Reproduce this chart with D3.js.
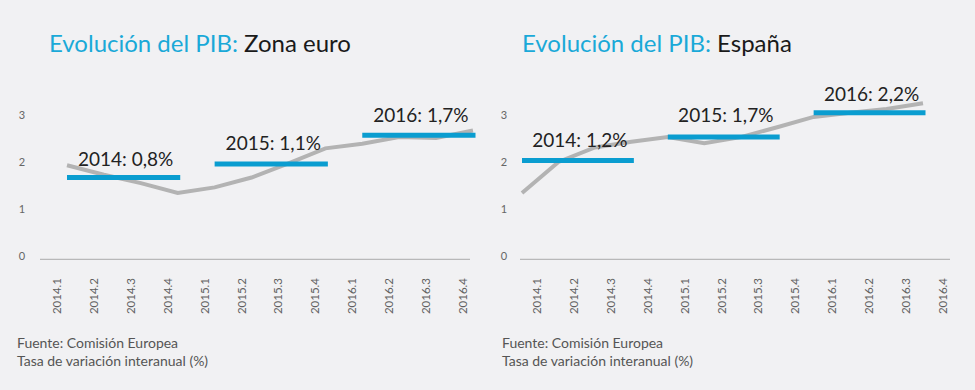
<!DOCTYPE html>
<html><head><meta charset="utf-8">
<script src="https://cdn.jsdelivr.net/npm/d3@7"></script>
<style>
html,body{margin:0;padding:0;background:#f1f1f3;}
svg{display:block;font-family:Lato,"Open Sans",sans-serif;}
</style></head>
<body><svg id="c" width="975" height="390"></svg>
<script>
const quarters = ["2014.1","2014.2","2014.3","2014.4","2015.1","2015.2","2015.3","2015.4","2016.1","2016.2","2016.3","2016.4"];
const yTicks = [0,1,2,3];
const years = ["2014","2015","2016"];
const euroValues = [2.0,1.8,1.62,1.41,1.53,1.74,2.04,2.36,2.46,2.6,2.58,2.74];
const euroBarLevels = [1.74,2.03,2.64];
const euroAnnualLabels = ["0,8%","1,1%","1,7%"];
const spainValues = [1.41,2.07,2.38,2.5,2.6,2.47,2.6,2.81,3.03,3.12,3.2,3.32];
const spainBarLevels = [2.1,2.6,3.12];
const spainAnnualLabels = ["1,2%","1,7%","2,2%"];
const titlePrefix = "Evolución del PIB: ";
const titles = ["Zona euro","España"];
const footer = ["Fuente: Comisión Europea","Tasa de variación interanual (%)"];

const svg = d3.select("#c");
const y = d3.scaleLinear().domain([0,3]).range([259.3,118.3]);

const panels = [
  {title:titles[0], values:euroValues, bars:euroBarLevels, labels:euroAnnualLabels,
   line:[67,473], tickLab:[57,463], base:[40,470], yLabX:22, titleX:49, foot:17, labGap:[12,14,13]},
  {title:titles[1], values:spainValues, bars:spainBarLevels, labels:spainAnnualLabels,
   line:[522,923], tickLab:[537,943], base:[520,950], yLabX:504, titleX:522, foot:502, labGap:[14,15,12]}
];

panels.forEach(p=>{
  const g = svg.append("g");
  const x = d3.scalePoint().domain(quarters).range(p.line);
  const xl = d3.scalePoint().domain(quarters).range(p.tickLab);

  const t = g.append("text").attr("x",p.titleX).attr("y",52).attr("font-size",24).attr("font-weight",400);
  t.append("tspan").attr("fill","#1aa9d8").text(titlePrefix);
  t.append("tspan").attr("fill","#1a1a1a").text(p.title);

  g.selectAll(".yl").data(yTicks).join("text")
    .attr("x",p.yLabX).attr("y",d=>y(d)-3.5).attr("dy","0.35em")
    .attr("text-anchor","middle").attr("font-size",11).attr("fill","#666").text(d=>d);

  g.append("line").attr("x1",p.base[0]).attr("x2",p.base[1]).attr("y1",y(0)).attr("y2",y(0))
    .attr("stroke","#aaa").attr("stroke-width",1);

  g.selectAll(".xl").data(quarters).join("text")
    .attr("transform",d=>`translate(${xl(d)+4},278) rotate(-90)`)
    .attr("text-anchor","end").attr("font-size",11.5).attr("fill","#606060").text(d=>d);

  g.append("path").datum(p.values)
    .attr("d",d3.line().x((d,i)=>x(quarters[i])).y(d=>y(d)))
    .attr("fill","none").attr("stroke","#b3b3b3").attr("stroke-width",4);

  years.forEach((yr,i)=>{
    const x0 = x(quarters[i*4]), x1 = x(quarters[i*4+3])+2.5;
    g.append("line").attr("x1",x0).attr("x2",x1).attr("y1",y(p.bars[i])).attr("y2",y(p.bars[i]))
      .attr("stroke","#0a9dd0").attr("stroke-width",5);
    g.append("text").attr("x",(x0+x1)/2+2).attr("y",y(p.bars[i])-p.labGap[i])
      .attr("text-anchor","middle").attr("font-size",19).attr("fill","#222")
      .text(yr+": "+p.labels[i]);
  });

  footer.forEach((f,i)=>{
    g.append("text").attr("x",p.foot).attr("y",348+i*17.5).attr("font-size",14).attr("fill","#555").text(f);
  });
});
</script></body></html>
